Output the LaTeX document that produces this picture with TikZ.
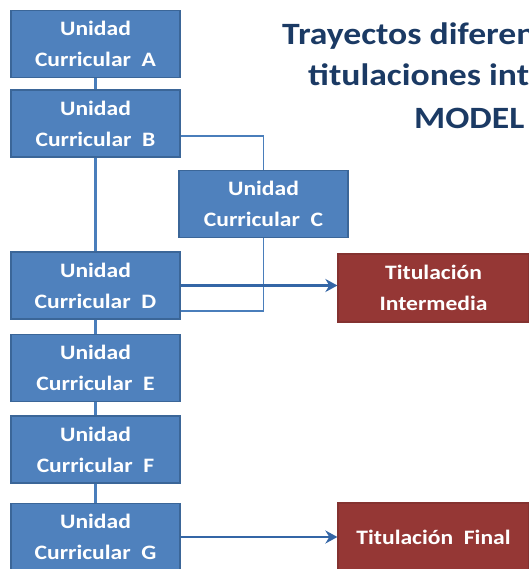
\documentclass[tikz,border=0pt]{standalone}
\usepackage{fontspec}
\usetikzlibrary{arrows.meta}
\newfontfamily\calfont{Carlito Bold}[FakeStretch=1.15]
\definecolor{ucblue}{HTML}{4F81BD}
\definecolor{ucedge}{HTML}{3B6698}
\definecolor{linkblue}{HTML}{4A7EBB}
\definecolor{arrowblue}{HTML}{3466A6}
\definecolor{titred}{HTML}{953735}
\definecolor{titedge}{HTML}{843230}
\definecolor{titlenavy}{HTML}{1B3A64}

\tikzset{
  unidad/.style={draw=ucedge, line width=1.2pt, fill=ucblue, text=white,
    minimum width=169pt, minimum height=67pt, align=center, inner sep=0pt,
    font=\calfont\fontsize{20.5}{31}\selectfont},
  titulo/.style={unidad, draw=titedge, fill=titred, minimum width=191pt, minimum height=68pt},
  cabecera/.style={anchor=base west, inner sep=0pt, text=titlenavy,
    font=\calfont\fontsize{31}{34}\selectfont},
  link/.style={draw=linkblue, line width=2.6pt},
  thin link/.style={draw=linkblue, line width=1.5pt},
  salida/.style={draw=arrowblue, line width=2.8pt, -{Stealth[length=12pt,width=13pt]}}
}

\begin{document}
\begin{tikzpicture}[x=1pt, y=-1pt]
  \useasboundingbox (0,0) rectangle (528,569);

  % Unidades en columna
  \foreach \n/\y in {A/44, B/123.5, D/285.5, E/368, F/449.5, G/537}
    \node[unidad] (uc\n) at (95.5,\y) {Unidad\\Curricular~~\n};
  \node[unidad] (ucC) at (263.5,204) {Unidad\\Curricular~~C};

  % Titulaciones
  \node[titulo] (inter) at (433.5,288) {Titulación\\Intermedia};
  \node[titulo] (final) at (433.5,537) {Titulación~~Final};

  % Titulo (cortado por el borde)
  \node[cabecera] (tit1) at (282,45) {Trayectos diferen};
  \node[cabecera] (tit2) at (308,86) {titulaciones int};
  \node[cabecera] (tit3) at (414,129) {MODEL};

  % Conexiones
  \draw[link] (ucA) -- (ucB);
  \draw[link] (ucB) -- (ucD);
  \draw[link] (ucD) -- (ucE);
  \draw[link] (ucE) -- (ucF);
  \draw[link] (ucF) -- (ucG);
  \draw[thin link] ([yshift=-12.5pt]ucB.east) -| (ucC.north);
  \draw[thin link] (ucC.south) |- ([yshift=-25.5pt]ucD.east);

  % Salidas
  \draw[salida] (ucD.east) -- (ucD.east -| inter.west);
  \draw[salida] (ucG.east) -- (ucG.east -| final.west);
\end{tikzpicture}
\end{document}
